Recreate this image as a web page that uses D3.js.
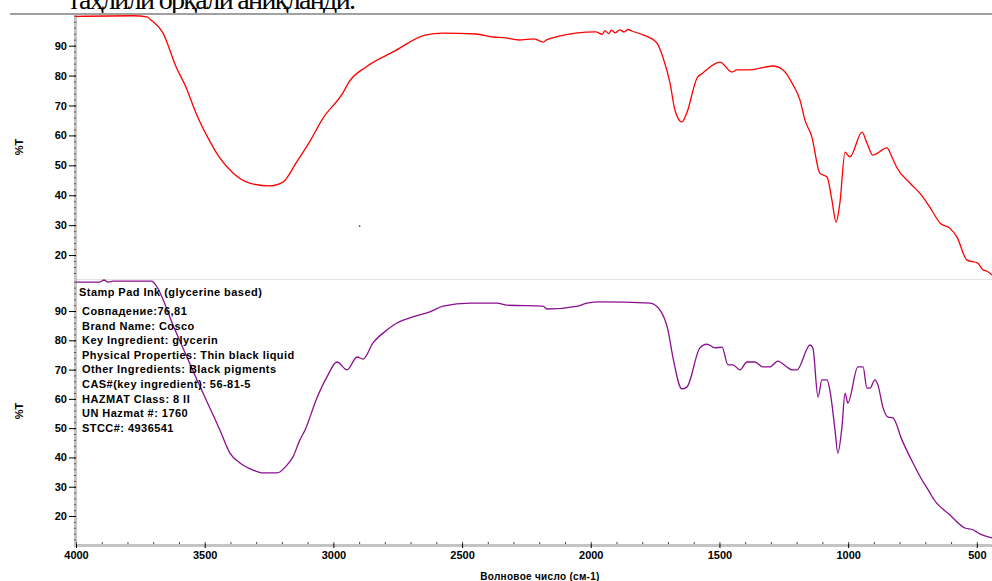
<!DOCTYPE html>
<html>
<head>
<meta charset="utf-8">
<script src="https://cdn.jsdelivr.net/npm/d3@7"></script>
<style>
  body { margin: 0; background: #fff; }
  svg { display: block; }
  .tick text { font-family: "Liberation Sans", Arial, sans-serif; font-weight: bold; font-size: 11px; fill: #000; }
</style>
</head>
<body>
<div id="chart"></div>
<script>
// sample spectrum (red, top panel): wavenumber, %T
const sampleWn = [4000, 3779, 3724, 3709, 3662, 3611, 3573, 3534, 3483, 3444, 3390, 3328, 3250, 3196, 3145, 3095, 3040, 2963, 2939, 2873, 2768, 2640, 2574, 2446, 2380, 2330, 2279, 2220, 2186, 2170, 2135, 2058, 1980, 1955, 1945, 1930, 1920, 1905, 1887, 1870, 1855, 1840, 1797, 1743, 1720, 1692, 1673, 1646, 1627, 1587, 1564, 1498, 1451, 1432, 1382, 1292, 1253, 1214, 1187, 1168, 1141, 1110, 1082, 1063, 1047, 1032, 1012, 993, 946, 927, 904, 849, 830, 810, 760, 709, 671, 643, 605, 577, 538, 496, 476, 460, 441];
const sampleT = [99.8, 100, 99.6, 98.6, 94.2, 82.9, 76.2, 67.5, 58.5, 52.8, 47.4, 44.1, 43.1, 44.4, 50.8, 57.5, 65.8, 74.2, 77.9, 82.9, 87.9, 93.6, 94.2, 93.9, 92.9, 92.6, 91.9, 92.3, 91.2, 92.0, 92.9, 94.2, 94.6, 93.8, 95.0, 94.0, 95.2, 94.3, 95.3, 94.6, 95.4, 94.9, 93.6, 90.9, 86.2, 77.5, 68.5, 64.5, 67.5, 79.2, 80.9, 84.5, 81.2, 81.9, 81.9, 83.2, 81.9, 76.9, 71.8, 65.2, 59.5, 47.4, 46.1, 38.4, 31.0, 37.4, 54.4, 52.8, 61.1, 57.5, 53.4, 55.8, 52.8, 49.1, 44.1, 39.4, 34.4, 30.7, 29.0, 26.0, 18.3, 17.3, 15.0, 14.6, 13.3];

// library reference spectrum (purple, bottom panel)
const refWn = [4000, 3907, 3891, 3876, 3856, 3705, 3693, 3615, 3530, 3441, 3402, 3363, 3312, 3273, 3219, 3180, 3157, 3130, 3110, 3064, 3025, 2986, 2947, 2908, 2885, 2846, 2792, 2753, 2691, 2625, 2574, 2469, 2364, 2326, 2186, 2170, 2050, 2015, 1964, 1770, 1731, 1700, 1681, 1646, 1626, 1576, 1549, 1517, 1490, 1467, 1448, 1420, 1393, 1362, 1331, 1304, 1273, 1238, 1218, 1199, 1148, 1137, 1117, 1102, 1082, 1071, 1051, 1040, 1024, 1012, 1001, 962, 942, 927, 915, 896, 884, 865, 845, 826, 791, 748, 713, 682, 671, 605, 546, 515, 488, 441];
const refT = [99.9, 99.9, 100.6, 99.9, 100.2, 100.2, 99.2, 83.5, 66.5, 49.4, 41.5, 38.1, 35.7, 34.7, 34.7, 37.4, 40.2, 46.0, 49.4, 60.3, 67.5, 72.6, 69.9, 74.3, 73.6, 79.1, 83.5, 85.9, 88.0, 89.7, 91.7, 92.7, 92.7, 92.0, 91.7, 90.7, 91.7, 92.7, 93.1, 92.7, 90.3, 83.5, 74.3, 63.4, 64.1, 77.4, 78.7, 77.4, 77.7, 71.6, 71.6, 69.9, 72.6, 72.6, 70.9, 70.9, 72.9, 70.9, 69.9, 69.9, 78.4, 77.4, 60.6, 66.5, 66.5, 63.0, 49.4, 41.5, 50.4, 62.0, 58.6, 70.9, 70.9, 63.7, 63.7, 66.5, 64.7, 57.2, 53.8, 53.5, 46.0, 38.1, 32.3, 27.9, 26.2, 20.4, 15.9, 15.3, 13.9, 12.5];

const xTicks = [4000, 3500, 3000, 2500, 2000, 1500, 1000, 500];
const yTicks = [20, 30, 40, 50, 60, 70, 80, 90];

const infoLines = [
  "Совпадение:76,81",
  "Brand Name:  Cosco",
  "Key Ingredient:  glycerin",
  "Physical Properties:  Thin black liquid",
  "Other Ingredients:  Black pigments",
  "CAS#(key ingredient):  56-81-5",
  "HAZMAT Class:  8 II",
  "UN Hazmat #:  1760",
  "STCC#:  4936541"
];
const infoTitle = "Stamp Pad Ink (glycerine based)";
const headerText = "таҳлили орқали аниқланди.";
const xLabel = "Волновое число (см-1)";
const yLabel = "%T";

const W = 992, H = 581;
const left = 76, right = 992;

const svg = d3.select("#chart").append("svg")
  .attr("width", W).attr("height", H);

// document line above the chart (cut by the crop, as in the scan)
svg.append("text")
  .attr("x", 68).attr("y", 9)
  .attr("textLength", 288)
  .style("font-family", "'Liberation Serif', 'Times New Roman', serif")
  .style("font-size", "28px")
  .text(headerText);
svg.append("line")
  .attr("x1", 10).attr("x2", W).attr("y1", 14).attr("y2", 14)
  .attr("stroke", "#a0a0a0").attr("stroke-width", 2);

const x = d3.scaleLinear().domain([4000, 441]).range([left, right]);
const yTop = d3.scaleLinear().domain([11.9, 100.25]).range([279.3, 15]);
const yBot = d3.scaleLinear().domain([10.1, 100.6]).range([545, 280]);

// panel separator
svg.append("line")
  .attr("x1", left).attr("x2", right).attr("y1", 279.5).attr("y2", 279.5)
  .attr("stroke", "#e4e4e4").attr("stroke-width", 1);

// gray frame bars
svg.append("line")
  .attr("x1", 75.5).attr("x2", 75.5).attr("y1", 15).attr("y2", 547)
  .attr("stroke", "#c4c4c4").attr("stroke-width", 3);
svg.append("line")
  .attr("x1", 74).attr("x2", right).attr("y1", 545.5).attr("y2", 545.5)
  .attr("stroke", "#c4c4c4").attr("stroke-width", 3);

function yAxes(scale, lo) {
  const minor = d3.range(lo, 101, 2);
  svg.append("g")
    .attr("transform", `translate(${left}, 0)`)
    .call(d3.axisLeft(scale).tickValues(minor).tickSize(2).tickFormat(""))
    .call(g => g.select(".domain").remove())
    .call(g => g.selectAll("line").attr("stroke", "#555"));
  svg.append("g")
    .attr("transform", `translate(${left}, 0)`)
    .call(d3.axisLeft(scale).tickValues(yTicks).tickSize(7).tickPadding(2).tickFormat(d3.format("d")))
    .call(g => g.select(".domain").remove())
    .call(g => g.selectAll("line").attr("stroke", "#000"));
}
yAxes(yTop, 14);
yAxes(yBot, 12);

// x axis
svg.append("g")
  .attr("transform", "translate(0, 544)")
  .call(d3.axisTop(x).tickValues(d3.range(4000, 440, -100)).tickSize(2).tickFormat(""))
  .call(g => g.select(".domain").remove())
  .call(g => g.selectAll("line").attr("stroke", "#444"));
svg.append("g")
  .attr("transform", "translate(0, 544)")
  .call(d3.axisBottom(x).tickValues(xTicks).tickSize(4).tickPadding(3).tickFormat(d3.format("d")))
  .call(g => g.select(".domain").remove())
  .call(g => g.selectAll("line").attr("stroke", "#000"));

// axis titles
[147, 411].forEach(cy => {
  svg.append("text")
    .attr("transform", `translate(23, ${cy}) rotate(-90)`)
    .attr("text-anchor", "middle")
    .style("font-family", "'Liberation Sans', Arial, sans-serif")
    .style("font-weight", "bold").style("font-size", "11px")
    .text(yLabel);
});
svg.append("text")
  .attr("x", 540).attr("y", 580)
  .attr("text-anchor", "middle")
  .style("font-family", "'Liberation Sans', Arial, sans-serif")
  .style("font-weight", "bold").style("font-size", "10px")
  .style("letter-spacing", "0.3px")
  .text(xLabel);

// spectra
const sample = sampleWn.map((w, i) => ({wn: w, t: sampleT[i]}));
const ref = refWn.map((w, i) => ({wn: w, t: refT[i]}));

svg.append("path")
  .datum(sample)
  .attr("fill", "none").attr("stroke", "#ff0000").attr("stroke-width", 1.3)
  .attr("d", d3.line().curve(d3.curveMonotoneX).x(d => x(d.wn)).y(d => yTop(d.t)));

svg.append("path")
  .datum(ref)
  .attr("fill", "none").attr("stroke", "#8a0f8f").attr("stroke-width", 1.3)
  .attr("d", d3.line().curve(d3.curveMonotoneX).x(d => x(d.wn)).y(d => yBot(d.t)));

// stray point in the top panel
svg.append("circle")
  .attr("cx", x(2898)).attr("cy", yTop(29.7)).attr("r", 0.9).attr("fill", "#444");

// library entry text
const info = svg.append("g")
  .style("font-family", "'Liberation Sans', Arial, sans-serif")
  .style("font-weight", "bold").style("font-size", "11px")
  .style("letter-spacing", "0.45px");
info.append("text").attr("x", 79).attr("y", 296).text(infoTitle);
info.selectAll("text.line")
  .data(infoLines)
  .enter().append("text")
  .attr("class", "line")
  .attr("x", 82)
  .attr("y", (d, i) => 315 + i * 14.6)
  .text(d => d);
</script>
</body>
</html>
